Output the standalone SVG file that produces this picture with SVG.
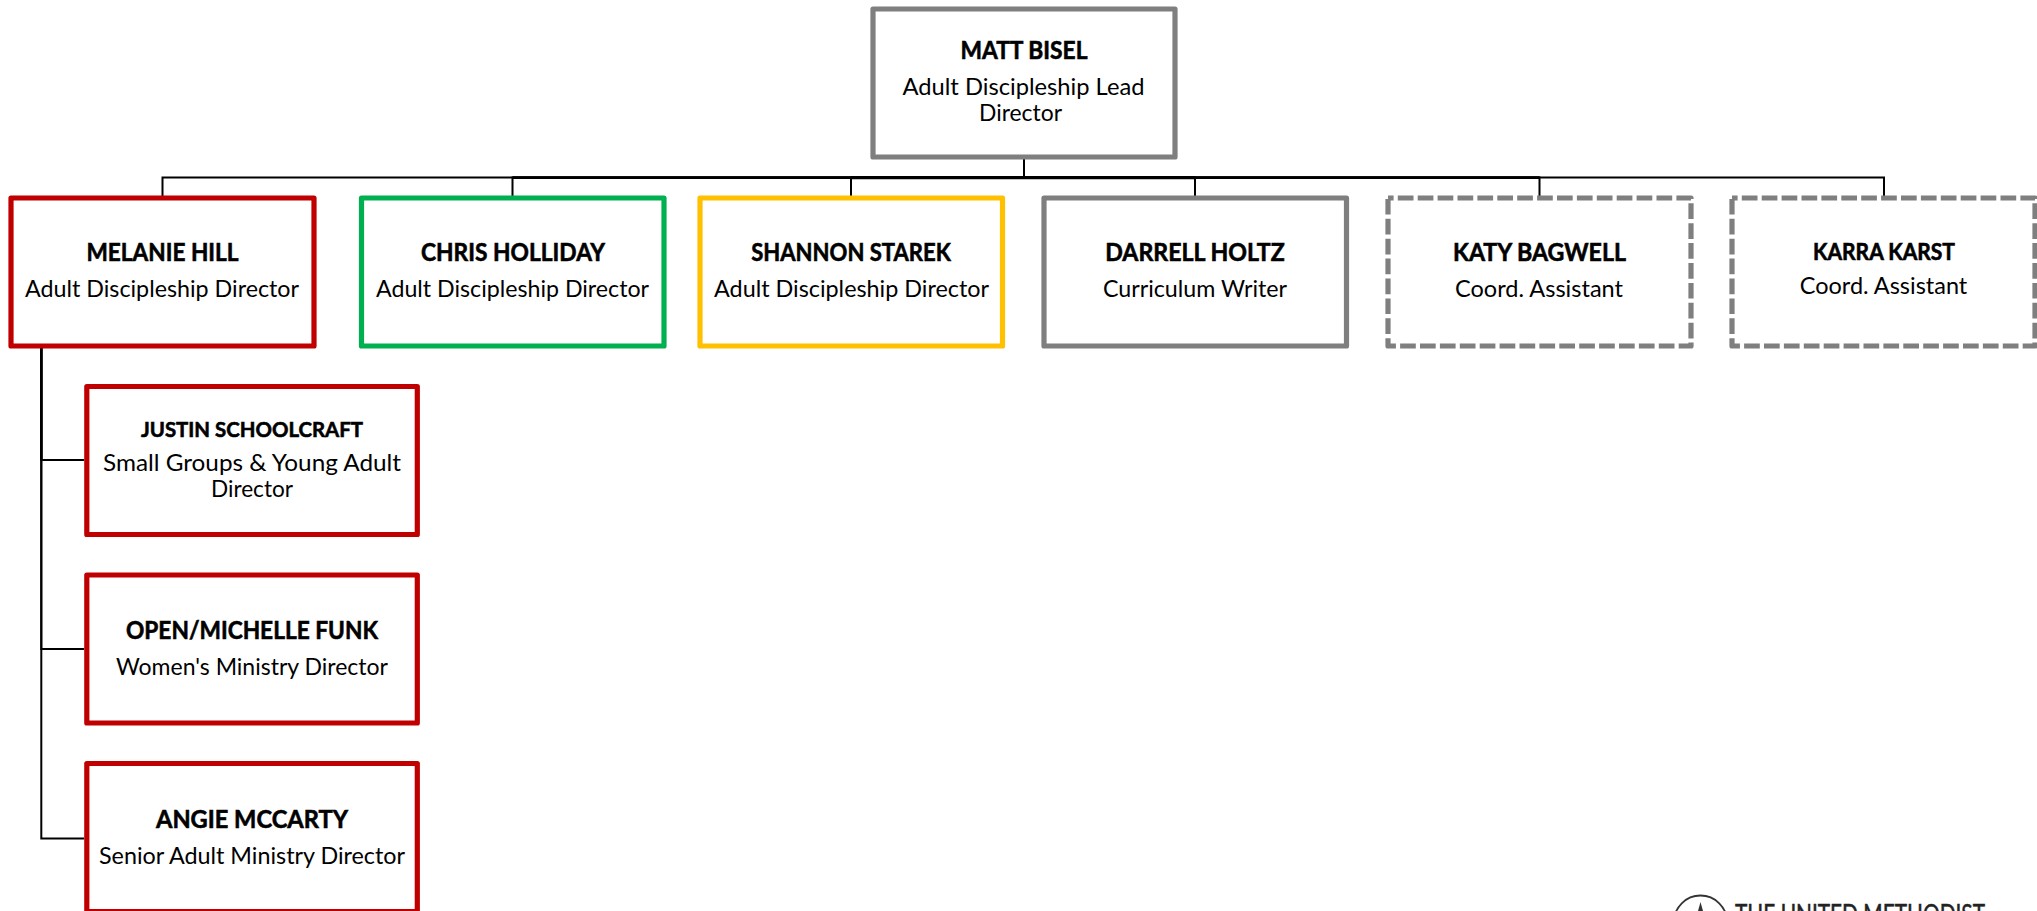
<svg xmlns="http://www.w3.org/2000/svg" width="2037" height="911" viewBox="0 0 2037 911">
<style>
text{font-family:"Lato","Liberation Sans",sans-serif;fill:#000;text-anchor:middle}
.n{font-weight:700;font-size:25px;stroke:#000;stroke-width:.6}
.s{font-size:24px}
.b{fill:#fff;stroke-width:5.2;stroke-linejoin:round}
.r{stroke:#c00000}.g{stroke:#00b050}.y{stroke:#ffc000}.k{stroke:#7f7f7f}
.d{stroke-dasharray:15.7 4.2;stroke-dashoffset:10.1}
#connectors path{fill:none;stroke:#000;stroke-width:2}
#connectors path.m{stroke-width:2.6}
#connectors path.t{stroke-width:3.3}
</style>
<rect width="2037" height="911" fill="#fff"/>
<g id="connectors">
<path d="M1024 159V177.500H162.500V196"/>
<path d="M1024 159V177.500H512.500V196"/>
<path d="M1024 159V177.500H851V196"/>
<path d="M1024 159V177.500H1195V196"/>
<path d="M1024 159V177.500H1539.500V196"/>
<path d="M1024 159V177.500H1884V196"/>
<path class="m" d="M512.500 177.600H1539.500"/>
<path class="t" d="M851 177.600H1195"/>
<path d="M41.300 348V460H84"/>
<path d="M41.300 348V649H84"/>
<path d="M41.300 348V838.500H84"/>
<path class="m" d="M41.300 348V460"/>
</g>
<g id="matt"><rect class="b k" x="873" y="9" width="302" height="148"/>
<text class="n" x="1024" y="59" textLength="127" lengthAdjust="spacingAndGlyphs">MATT BISEL</text>
<text class="s" x="1023.500" y="95" textLength="242" lengthAdjust="spacingAndGlyphs">Adult Discipleship Lead</text>
<text class="s" x="1020.500" y="121" textLength="83" lengthAdjust="spacingAndGlyphs">Director</text></g>
<g id="melanie"><rect class="b r" x="11" y="198" width="303" height="148"/>
<text class="n" x="162.500" y="261" textLength="152" lengthAdjust="spacingAndGlyphs">MELANIE HILL</text>
<text class="s" x="162" y="297" textLength="274" lengthAdjust="spacingAndGlyphs">Adult Discipleship Director</text></g>
<g id="chris"><rect class="b g" x="361.500" y="198" width="302.500" height="148"/>
<text class="n" x="513" y="261" textLength="184" lengthAdjust="spacingAndGlyphs">CHRIS HOLLIDAY</text>
<text class="s" x="512.500" y="297" textLength="273" lengthAdjust="spacingAndGlyphs">Adult Discipleship Director</text></g>
<g id="shannon"><rect class="b y" x="700" y="198" width="302.500" height="148"/>
<text class="n" x="851" y="261" textLength="199.500" lengthAdjust="spacingAndGlyphs">SHANNON STAREK</text>
<text class="s" x="851.500" y="297" textLength="275" lengthAdjust="spacingAndGlyphs">Adult Discipleship Director</text></g>
<g id="darrell"><rect class="b k" x="1044" y="198" width="302.500" height="148"/>
<text class="n" x="1195" y="261" textLength="179.500" lengthAdjust="spacingAndGlyphs">DARRELL HOLTZ</text>
<text class="s" x="1195" y="297" textLength="184" lengthAdjust="spacingAndGlyphs">Curriculum Writer</text></g>
<g id="katy"><rect class="b k d" x="1388" y="198" width="303" height="148"/>
<text class="n" x="1539.500" y="261" textLength="173" lengthAdjust="spacingAndGlyphs">KATY BAGWELL</text>
<text class="s" x="1539" y="297" textLength="168" lengthAdjust="spacingAndGlyphs">Coord. Assistant</text></g>
<g id="karra"><rect class="b k d" x="1732" y="198" width="303" height="148"/>
<text class="n" x="1884" y="260" style="font-size:23px" textLength="142" lengthAdjust="spacingAndGlyphs">KARRA KARST</text>
<text class="s" x="1883.500" y="294" textLength="167.500" lengthAdjust="spacingAndGlyphs">Coord. Assistant</text></g>
<g id="justin"><rect class="b r" x="86.800" y="386.500" width="330.500" height="148"/>
<text class="n" x="252" y="437" style="font-size:21px" textLength="222" lengthAdjust="spacingAndGlyphs">JUSTIN SCHOOLCRAFT</text>
<text class="s" x="252" y="471" textLength="298" lengthAdjust="spacingAndGlyphs">Small Groups &amp; Young Adult</text>
<text class="s" x="252" y="497" textLength="82" lengthAdjust="spacingAndGlyphs">Director</text></g>
<g id="open"><rect class="b r" x="86.800" y="575" width="330.500" height="148"/>
<text class="n" x="252" y="638.500" textLength="252" lengthAdjust="spacingAndGlyphs">OPEN/MICHELLE FUNK</text>
<text class="s" x="252" y="675" textLength="272" lengthAdjust="spacingAndGlyphs">Women's Ministry Director</text></g>
<g id="angie"><rect class="b r" x="86.800" y="763.500" width="330.500" height="148"/>
<text class="n" x="252" y="827.500" textLength="192" lengthAdjust="spacingAndGlyphs">ANGIE MCCARTY</text>
<text class="s" x="252" y="863.500" textLength="306" lengthAdjust="spacingAndGlyphs">Senior Adult Ministry Director</text></g>
<g id="logo"><circle cx="1700.500" cy="922" r="26.500" fill="none" stroke="#333" stroke-width="1.800"/>
<path d="M1700.500 902L1698 911H1703Z" fill="#333"/>
<text x="1860" y="924" style="font-size:26px;fill:#222;stroke:#222;stroke-width:.5" textLength="250" lengthAdjust="spacingAndGlyphs">THE UNITED METHODIST</text></g>
</svg>
